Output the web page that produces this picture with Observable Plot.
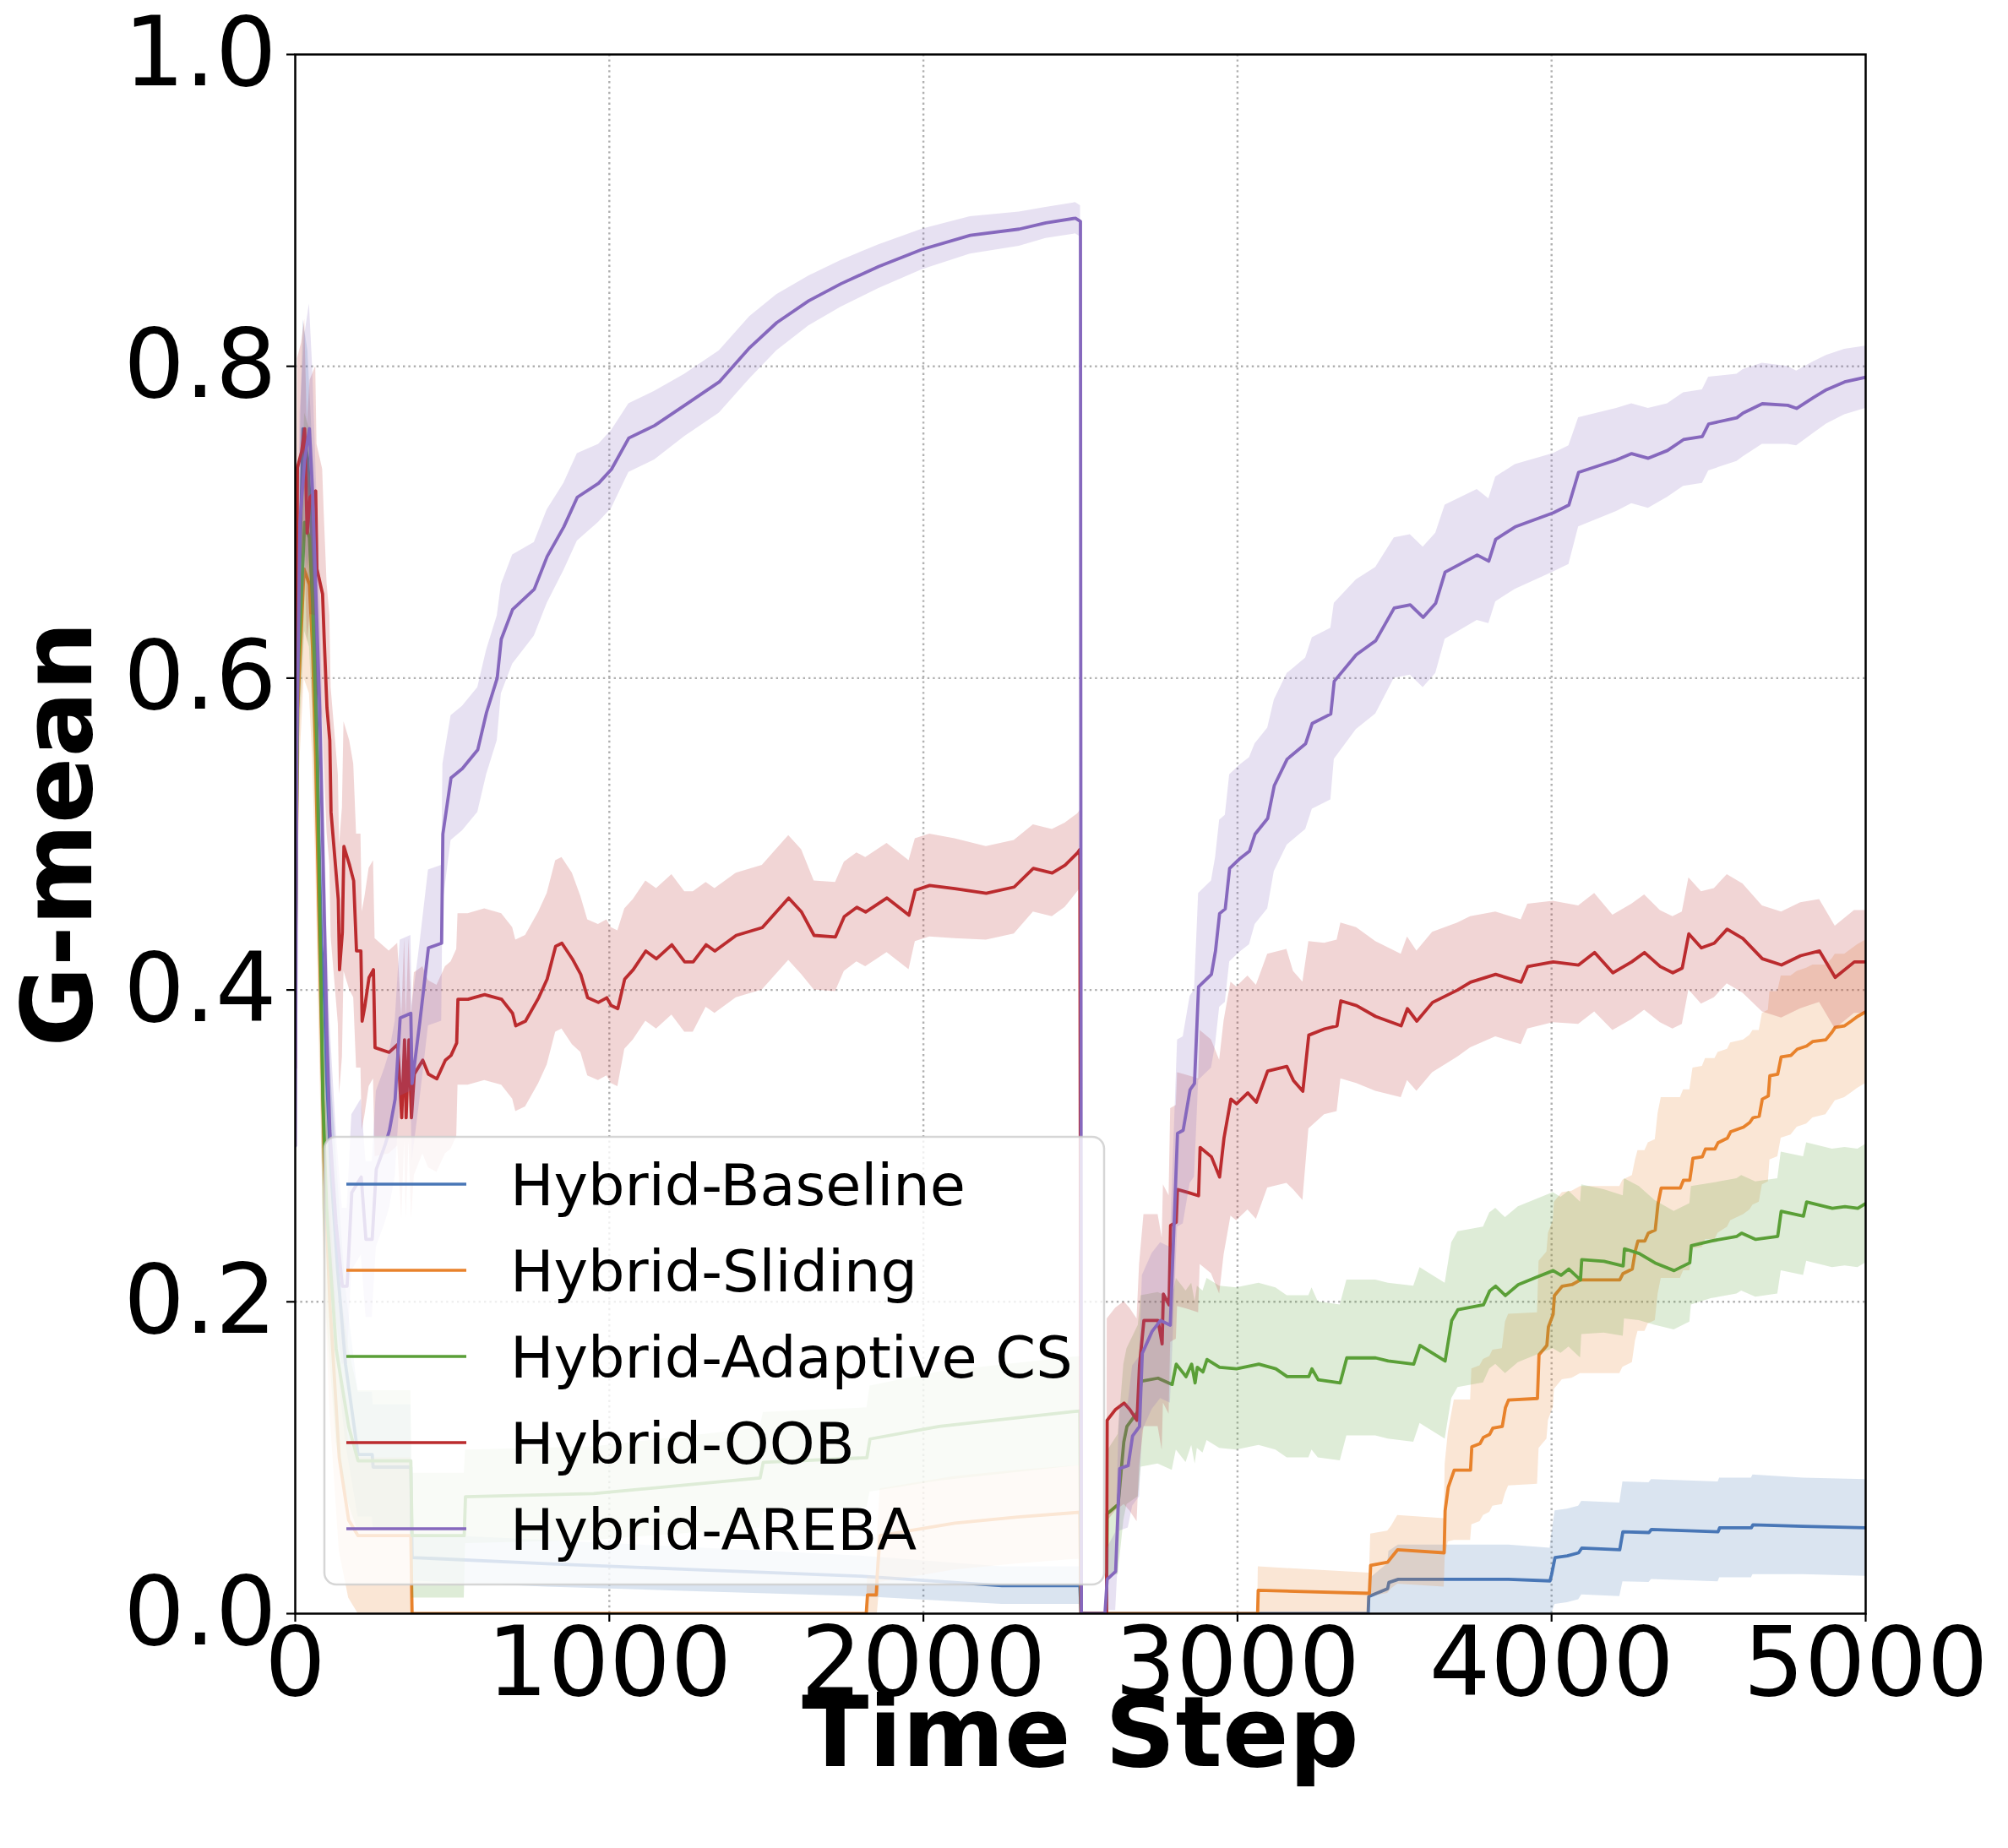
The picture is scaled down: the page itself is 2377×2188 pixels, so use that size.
<!DOCTYPE html>
<html>
<head>
<meta charset="utf-8">
<script src="https://cdn.jsdelivr.net/npm/d3@7"></script>
<script src="https://cdn.jsdelivr.net/npm/@observablehq/plot@0.6"></script>
<style>
  html, body { margin: 0; padding: 0; background: white; }
  #chart svg { display: block; }
</style>
</head>
<body>
<div id="chart"></div>
<script>
// ---- data: [time step, mean G-mean, std] ----
const seriesNames = ["Hybrid-Baseline", "Hybrid-Sliding", "Hybrid-Adaptive CS", "Hybrid-OOB", "Hybrid-AREBA"];
const seriesColors = ["#4876b6", "#e8822b", "#5a9f37", "#bb2b2e", "#8668bd"];
const xTicks = [0, 1000, 2000, 3000, 4000, 5000];
const yTicks = [0.0, 0.2, 0.4, 0.6, 0.8, 1.0];

const baseline = [[0,0.40,0.05],[8,0.62,0.06],[25,0.76,0.07],[40,0.74,0.07],[50,0.70,0.07],[60,0.66,0.07],[68,0.58,0.07],[75,0.50,0.07],[83,0.43,0.07],[92,0.40,0.07],[101,0.34,0.07],[115,0.28,0.06],[135,0.22,0.06],[160,0.16,0.05],[200,0.102,0.04],[245,0.102,0.04],[248,0.094,0.04],[368,0.094,0.04],[372,0.036,0.015],[800,0.032,0.015],[1300,0.028,0.014],[1800,0.024,0.013],[2250,0.018,0.012],[2498,0.018,0.012],[2502,0,0],[3416,0,0],[3418,0.011,0.011],[3478,0.016,0.016],[3482,0.02,0.02],[3512,0.022,0.022],[3863,0.022,0.022],[3995,0.021,0.021],[4000,0.025,0.025],[4011,0.036,0.03],[4050,0.037,0.03],[4086,0.039,0.03],[4096,0.042,0.03],[4217,0.041,0.03],[4227,0.0525,0.032],[4310,0.052,0.032],[4318,0.054,0.032],[4530,0.0525,0.032],[4535,0.055,0.032],[4636,0.055,0.032],[4641,0.057,0.032],[4800,0.056,0.031],[5000,0.055,0.031]];

const sliding = [[0,0.40,0.05],[8,0.58,0.06],[28,0.67,0.07],[45,0.66,0.07],[55,0.62,0.07],[65,0.55,0.07],[75,0.45,0.07],[85,0.36,0.07],[92,0.29,0.07],[110,0.20,0.07],[140,0.10,0.06],[170,0.06,0.05],[200,0.05,0.05],[368,0.05,0.05],[372,0,0],[1818,0,0],[1822,0.012,0.012],[1850,0.012,0.012],[1853,0.025,0.025],[1862,0.05,0.03],[2100,0.058,0.03],[2300,0.062,0.03],[2498,0.065,0.03],[2502,0,0],[3064,0,0],[3066,0.015,0.015],[3420,0.013,0.013],[3424,0.031,0.02],[3478,0.033,0.02],[3490,0.036,0.02],[3510,0.041,0.022],[3658,0.039,0.022],[3661,0.066,0.03],[3671,0.081,0.035],[3690,0.092,0.045],[3742,0.092,0.045],[3746,0.107,0.05],[3772,0.109,0.05],[3783,0.113,0.05],[3803,0.115,0.05],[3813,0.119,0.05],[3843,0.12,0.05],[3853,0.132,0.055],[3863,0.137,0.055],[3955,0.138,0.055],[3960,0.166,0.06],[3985,0.172,0.06],[3990,0.184,0.06],[4005,0.192,0.06],[4009,0.204,0.06],[4034,0.21,0.06],[4065,0.211,0.06],[4092,0.214,0.06],[4217,0.214,0.06],[4227,0.218,0.06],[4257,0.221,0.06],[4267,0.233,0.058],[4275,0.239,0.058],[4297,0.239,0.058],[4308,0.244,0.058],[4330,0.246,0.058],[4339,0.263,0.058],[4349,0.273,0.058],[4410,0.273,0.058],[4420,0.278,0.058],[4440,0.278,0.058],[4450,0.292,0.058],[4480,0.293,0.058],[4490,0.298,0.058],[4520,0.298,0.058],[4530,0.302,0.058],[4560,0.305,0.057],[4570,0.309,0.057],[4611,0.312,0.056],[4631,0.315,0.056],[4641,0.318,0.056],[4661,0.319,0.055],[4671,0.33,0.055],[4690,0.332,0.055],[4695,0.345,0.054],[4720,0.346,0.053],[4731,0.357,0.052],[4762,0.358,0.051],[4782,0.362,0.05],[4812,0.364,0.05],[4832,0.367,0.049],[4873,0.368,0.048],[4893,0.373,0.047],[4903,0.376,0.047],[4933,0.377,0.046],[4954,0.38,0.046],[4974,0.383,0.046],[5000,0.386,0.046]];

const adaptiveCS = [[0,0.40,0.05],[8,0.60,0.06],[30,0.70,0.07],[45,0.69,0.07],[55,0.65,0.07],[70,0.55,0.07],[80,0.43,0.07],[88,0.33,0.07],[100,0.26,0.07],[130,0.17,0.06],[170,0.12,0.05],[200,0.098,0.045],[368,0.098,0.045],[372,0.05,0.04],[538,0.05,0.04],[542,0.075,0.03],[950,0.077,0.03],[1480,0.087,0.032],[1490,0.097,0.032],[1820,0.10,0.032],[1830,0.112,0.034],[2050,0.12,0.035],[2498,0.13,0.035],[2502,0,0],[2583,0,0],[2585,0.064,0.04],[2620,0.07,0.045],[2638,0.11,0.05],[2648,0.12,0.05],[2684,0.13,0.055],[2693,0.149,0.055],[2747,0.151,0.055],[2792,0.147,0.055],[2805,0.16,0.055],[2836,0.152,0.055],[2854,0.16,0.052],[2865,0.148,0.052],[2872,0.158,0.052],[2890,0.155,0.052],[2903,0.163,0.052],[2943,0.158,0.052],[2997,0.157,0.052],[3068,0.16,0.052],[3122,0.157,0.052],[3158,0.152,0.052],[3227,0.152,0.052],[3237,0.157,0.052],[3257,0.15,0.05],[3327,0.148,0.05],[3348,0.164,0.05],[3440,0.164,0.05],[3480,0.162,0.05],[3561,0.16,0.05],[3581,0.172,0.05],[3661,0.162,0.05],[3682,0.188,0.05],[3702,0.195,0.05],[3783,0.198,0.05],[3803,0.207,0.05],[3822,0.21,0.05],[3853,0.204,0.05],[3894,0.211,0.05],[3955,0.216,0.05],[4005,0.22,0.05],[4030,0.217,0.05],[4055,0.221,0.05],[4092,0.214,0.05],[4096,0.227,0.048],[4167,0.226,0.046],[4228,0.223,0.045],[4232,0.234,0.045],[4279,0.231,0.043],[4329,0.225,0.04],[4390,0.22,0.038],[4440,0.225,0.038],[4445,0.236,0.038],[4508,0.239,0.037],[4590,0.242,0.037],[4605,0.244,0.037],[4650,0.24,0.037],[4720,0.242,0.037],[4731,0.258,0.038],[4802,0.255,0.038],[4812,0.264,0.038],[4894,0.26,0.038],[4934,0.261,0.038],[4975,0.26,0.038],[5000,0.263,0.038]];

const oob = [[0,0.35,0.06],[4,0.60,0.07],[7,0.735,0.07],[20,0.745,0.07],[30,0.76,0.07],[38,0.693,0.07],[47,0.716,0.075],[65,0.72,0.08],[69,0.67,0.08],[87,0.654,0.08],[92,0.626,0.08],[101,0.581,0.08],[110,0.56,0.08],[114,0.514,0.08],[128,0.48,0.08],[137,0.458,0.08],[141,0.413,0.08],[150,0.437,0.08],[155,0.492,0.08],[173,0.48,0.08],[186,0.47,0.075],[195,0.425,0.075],[209,0.425,0.075],[213,0.38,0.07],[222,0.39,0.07],[235,0.408,0.07],[249,0.413,0.07],[254,0.363,0.07],[299,0.36,0.065],[326,0.365,0.065],[339,0.318,0.065],[348,0.368,0.065],[353,0.318,0.065],[362,0.368,0.065],[370,0.318,0.065],[379,0.346,0.065],[406,0.355,0.06],[424,0.346,0.06],[451,0.343,0.06],[478,0.355,0.06],[496,0.358,0.06],[514,0.366,0.06],[518,0.394,0.055],[550,0.394,0.055],[603,0.397,0.055],[657,0.394,0.055],[692,0.385,0.055],[702,0.377,0.055],[733,0.38,0.055],[775,0.395,0.055],[802,0.407,0.055],[829,0.428,0.055],[849,0.43,0.055],[882,0.42,0.055],[909,0.41,0.05],[931,0.395,0.05],[965,0.392,0.05],[992,0.395,0.05],[1006,0.39,0.05],[1027,0.388,0.05],[1049,0.407,0.045],[1076,0.413,0.045],[1116,0.425,0.045],[1150,0.42,0.045],[1199,0.429,0.045],[1240,0.418,0.045],[1267,0.418,0.045],[1308,0.429,0.04],[1336,0.425,0.04],[1404,0.435,0.04],[1487,0.44,0.04],[1571,0.459,0.04],[1612,0.45,0.04],[1652,0.435,0.035],[1720,0.434,0.035],[1748,0.447,0.035],[1788,0.453,0.035],[1816,0.45,0.035],[1884,0.459,0.035],[1954,0.448,0.035],[1974,0.464,0.033],[2020,0.467,0.033],[2100,0.465,0.032],[2200,0.462,0.03],[2289,0.466,0.03],[2350,0.478,0.028],[2410,0.475,0.028],[2451,0.48,0.027],[2491,0.488,0.025],[2498,0.49,0.025],[2502,0,0],[2583,0,0],[2585,0.124,0.065],[2612,0.131,0.065],[2639,0.135,0.065],[2657,0.131,0.065],[2680,0.124,0.065],[2688,0.159,0.065],[2702,0.188,0.068],[2747,0.188,0.068],[2760,0.173,0.068],[2764,0.205,0.07],[2782,0.198,0.07],[2787,0.249,0.075],[2805,0.251,0.075],[2809,0.272,0.075],[2845,0.27,0.075],[2876,0.268,0.075],[2881,0.299,0.075],[2917,0.293,0.075],[2943,0.28,0.075],[2957,0.305,0.075],[2979,0.33,0.075],[2997,0.327,0.075],[3033,0.334,0.075],[3060,0.328,0.075],[3096,0.348,0.075],[3157,0.351,0.075],[3178,0.342,0.07],[3208,0.335,0.07],[3227,0.371,0.06],[3277,0.375,0.055],[3317,0.377,0.055],[3329,0.393,0.05],[3379,0.39,0.05],[3440,0.383,0.048],[3521,0.377,0.046],[3541,0.388,0.046],[3571,0.38,0.045],[3621,0.392,0.045],[3701,0.40,0.043],[3742,0.405,0.042],[3822,0.41,0.04],[3903,0.405,0.04],[3924,0.415,0.04],[4005,0.418,0.039],[4086,0.416,0.038],[4137,0.424,0.038],[4195,0.411,0.037],[4255,0.418,0.037],[4296,0.424,0.037],[4346,0.415,0.036],[4386,0.411,0.036],[4416,0.414,0.036],[4437,0.436,0.036],[4477,0.427,0.036],[4518,0.43,0.035],[4559,0.439,0.035],[4609,0.433,0.035],[4671,0.42,0.034],[4732,0.416,0.034],[4793,0.422,0.034],[4853,0.425,0.033],[4903,0.408,0.033],[4964,0.418,0.033],[5000,0.418,0.033]];

const areba = [[0,0.30,0.05],[5,0.55,0.06],[15,0.70,0.07],[30,0.74,0.08],[45,0.76,0.08],[55,0.72,0.08],[65,0.66,0.08],[78,0.58,0.08],[90,0.47,0.08],[101,0.37,0.07],[110,0.31,0.07],[130,0.25,0.06],[150,0.21,0.05],[165,0.21,0.05],[180,0.27,0.05],[210,0.28,0.05],[225,0.24,0.05],[245,0.24,0.05],[258,0.285,0.05],[285,0.30,0.05],[300,0.31,0.05],[318,0.33,0.05],[334,0.382,0.05],[368,0.385,0.05],[372,0.34,0.05],[397,0.38,0.05],[424,0.427,0.05],[466,0.43,0.05],[470,0.50,0.045],[496,0.536,0.04],[532,0.542,0.04],[581,0.554,0.04],[609,0.578,0.04],[643,0.60,0.04],[656,0.625,0.035],[692,0.644,0.035],[761,0.657,0.03],[802,0.678,0.03],[855,0.697,0.028],[898,0.716,0.028],[966,0.725,0.025],[1007,0.734,0.025],[1062,0.754,0.022],[1144,0.762,0.022],[1240,0.775,0.02],[1350,0.79,0.02],[1447,0.812,0.02],[1533,0.828,0.018],[1635,0.842,0.016],[1738,0.853,0.015],[1858,0.864,0.014],[1996,0.875,0.013],[2149,0.884,0.012],[2305,0.888,0.011],[2390,0.892,0.01],[2484,0.895,0.01],[2500,0.893,0.01],[2503,0,0],[2578,0,0],[2585,0.022,0.02],[2612,0.027,0.025],[2625,0.093,0.04],[2652,0.095,0.04],[2666,0.114,0.045],[2688,0.12,0.045],[2697,0.167,0.05],[2728,0.181,0.05],[2755,0.188,0.05],[2786,0.185,0.05],[2791,0.212,0.055],[2809,0.308,0.06],[2827,0.31,0.06],[2849,0.336,0.06],[2863,0.34,0.06],[2876,0.402,0.06],[2917,0.41,0.06],[2930,0.425,0.06],[2943,0.449,0.06],[2961,0.452,0.06],[2975,0.478,0.06],[3006,0.484,0.06],[3038,0.489,0.06],[3056,0.50,0.058],[3096,0.51,0.058],[3117,0.531,0.055],[3158,0.548,0.055],[3217,0.558,0.055],[3238,0.571,0.055],[3297,0.577,0.055],[3308,0.598,0.05],[3378,0.615,0.048],[3440,0.624,0.047],[3499,0.645,0.045],[3550,0.647,0.045],[3591,0.639,0.045],[3631,0.648,0.045],[3661,0.668,0.043],[3763,0.679,0.042],[3800,0.675,0.04],[3822,0.689,0.04],[3884,0.697,0.04],[4005,0.706,0.038],[4055,0.711,0.038],[4086,0.732,0.035],[4207,0.74,0.033],[4255,0.744,0.032],[4308,0.741,0.032],[4369,0.746,0.03],[4420,0.753,0.03],[4480,0.755,0.03],[4500,0.763,0.03],[4590,0.767,0.028],[4610,0.77,0.028],[4671,0.776,0.026],[4752,0.775,0.025],[4780,0.773,0.024],[4834,0.78,0.023],[4875,0.785,0.022],[4933,0.79,0.021],[5000,0.793,0.02]];

const allSeries = [baseline, sliding, adaptiveCS, oob, areba];

// ---- build table ----
const tables = allSeries.map((s, i) => s.map(([x, y, sd]) => ({
  series: seriesNames[i], x, y, lo: Math.max(0, y - sd), hi: y + sd
})));

const W = 2377, H = 2188;
const mL = 349, mR = 169, mT = 64, mB = 278;

const seriesMarks = [];
tables.forEach((t, i) => {
  seriesMarks.push(Plot.areaY(t, {x: "x", y1: "lo", y2: "hi", fill: seriesColors[i], fillOpacity: 0.2, curve: "linear", clip: true}));
  seriesMarks.push(Plot.lineY(t, {x: "x", y: "y", stroke: seriesColors[i], strokeWidth: 3.8, strokeLinejoin: "round", curve: "linear", clip: true}));
});

const chart = Plot.plot({
  width: W, height: H,
  marginLeft: mL, marginRight: mR, marginTop: mT, marginBottom: mB,
  style: {fontFamily: "'DejaVu Sans', sans-serif", background: "white", color: "black", overflow: "visible"},
  x: {domain: [0, 5000], label: null},
  y: {domain: [0, 1], label: null},
  marks: [
    Plot.gridX(xTicks.slice(1, -1), {stroke: "#b0b0b0", strokeOpacity: 1, strokeWidth: 2.4, strokeDasharray: "2.4 4"}),
    Plot.gridY(yTicks.slice(1, -1), {stroke: "#b0b0b0", strokeOpacity: 1, strokeWidth: 2.4, strokeDasharray: "2.4 4"}),
    ...seriesMarks,
    Plot.frame({stroke: "black", strokeWidth: 2.5}),
    Plot.axisX(xTicks, {tickSize: 10, tickPadding: 6, fontSize: 114, strokeWidth: 2.2, tickFormat: d => String(d), label: null}),
    Plot.axisY(yTicks, {tickSize: 10, tickPadding: 12, fontSize: 114, strokeWidth: 2.2, tickFormat: d => d.toFixed(1), label: null}),
    Plot.text(["Time Step"], {text: d => d, frameAnchor: "bottom", dy: 143, fontSize: 116, fontWeight: "bold", textAnchor: "middle", lineAnchor: "middle"}),
    Plot.text(["G-mean"], {text: d => d, frameAnchor: "left", rotate: -90, dx: -279, fontSize: 116, fontWeight: "bold", textAnchor: "middle", lineAnchor: "middle"})
  ]
});

document.getElementById("chart").appendChild(chart);

// ---- legend (inside the axes, lower left) ----
const svg = d3.select(chart);
const lg = svg.append("g").attr("class", "legend").attr("text-anchor", "start");
const box = {x: 384, y: 1346, w: 923, h: 530};
lg.append("rect")
  .attr("x", box.x).attr("y", box.y).attr("width", box.w).attr("height", box.h)
  .attr("rx", 14).attr("ry", 14)
  .attr("fill", "white").attr("fill-opacity", 0.8)
  .attr("stroke", "#cccccc").attr("stroke-opacity", 0.8).attr("stroke-width", 2.5);
seriesNames.forEach((name, i) => {
  const cy = 1402 + i * 102;
  lg.append("line")
    .attr("x1", 410).attr("x2", 552).attr("y1", cy).attr("y2", cy)
    .attr("stroke", seriesColors[i]).attr("stroke-width", 3.5);
  lg.append("text")
    .attr("x", 604).attr("y", cy + 25)
    .attr("text-anchor", "start")
    .attr("font-family", "'DejaVu Sans', sans-serif")
    .attr("font-size", 68.5)
    .attr("fill", "black")
    .text(name);
});
</script>
</body>
</html>
